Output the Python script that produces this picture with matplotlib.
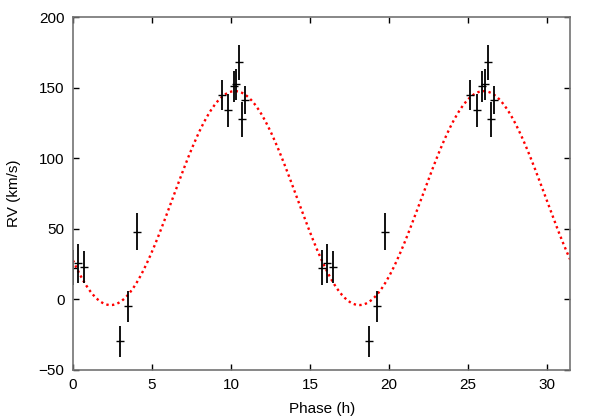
import numpy as np
import matplotlib
matplotlib.use("Agg")
import matplotlib.pyplot as plt

plt.rcParams['font.family'] = ['Liberation Sans', 'DejaVu Sans']
plt.rcParams['font.size'] = 11

# orbital fit parameters
period = 15.74      # h
gamma = 71.8        # km/s
k_amp = 75.8        # km/s
t_min = 2.38        # h, phase of minimum RV

# measured points, one cycle (plotted twice, shifted by one period)
phase = [0.02, 0.34, 0.70, 2.97, 3.50, 4.03,
         9.41, 9.83, 10.17, 10.30, 10.51, 10.72, 10.89]
rv = [22.6, 25.5, 22.9, -29.5, -5.0, 48.0,
      144.7, 133.9, 151.0, 152.5, 168.2, 127.5, 141.3]
rv_err = [12.3, 14.0, 11.6, 11.0, 10.7, 13.0,
          10.7, 12.0, 11.0, 11.0, 12.4, 12.3, 9.7]

xticks = [0, 5, 10, 15, 20, 25, 30]
yticks = [-50, 0, 50, 100, 150, 200]

fig = plt.figure(figsize=(5.98, 4.19), dpi=100)
ax = fig.add_axes([0.122, 0.117, 0.832, 0.842])

t = np.linspace(0, 2 * period, 600)
model = gamma - k_amp * np.cos(2 * np.pi * (t - t_min) / period)
ax.plot(t, model, color='red', linestyle=(0, (1, 1.4)), linewidth=1.7)

for shift in (0, period):
    x = np.array(phase) + shift
    ax.errorbar(x, rv, yerr=rv_err, fmt='_', color='black',
                markersize=6, markeredgewidth=1.0,
                elinewidth=1.3, capsize=0)

ax.set_xlim(0, 2 * period)
ax.set_ylim(-50, 200)
ax.set_xticks(xticks)
ax.set_yticks(yticks)
ax.tick_params(direction='in', length=4, width=1, top=True, right=True,
               color='black', pad=6)
for s in ax.spines.values():
    s.set_color('0.45')
    s.set_linewidth(1.2)

ax.set_xlabel('Phase (h)', labelpad=7)
ax.set_ylabel('RV (km/s)', labelpad=13)

fig.savefig('out.png', dpi=100)
